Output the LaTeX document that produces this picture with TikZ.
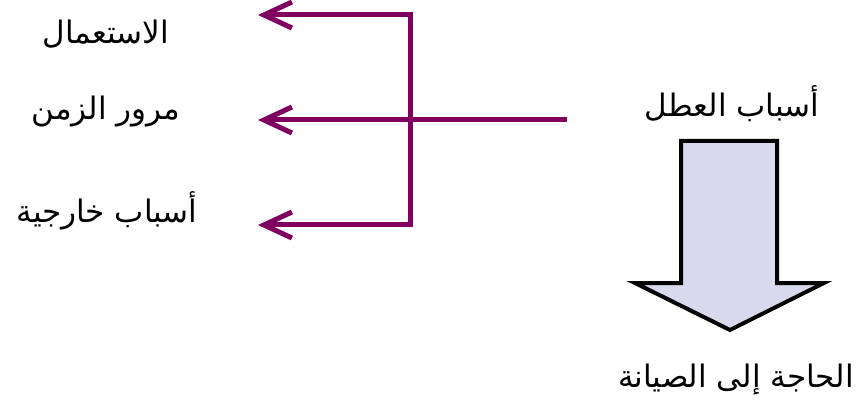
\documentclass[tikz,border=0pt]{standalone}
\usepackage{fontspec}
\newfontfamily\arabicfont[Script=Arabic]{DejaVu Sans}
\TeXXeTstate=1
\usetikzlibrary{arrows.meta}
\definecolor{plum}{HTML}{800060}
\definecolor{lav}{HTML}{D8D9EC}
\begin{document}
\begin{tikzpicture}[x=1pt,y=-1pt,
  lbl/.style={font=\arabicfont\fontsize{31}{36}\selectfont, inner sep=0pt},
  conn/.style={draw=plum, line width=5pt, -{Straight Barb[length=28pt,width=26pt,line width=5pt]}},
  bline/.style={draw=plum, line width=5pt}]
\path[use as bounding box] (0,0) rectangle (861,403);
\node[lbl] (use) at (106,34) {\beginR الاستعمال\endR};
\node[lbl] (time) at (106,112) {\beginR مرور الزمن\endR};
\node[lbl] (ext) at (107,211) {\beginR أسباب خارجية\endR};
\node[lbl] (cause) at (732,104) {\beginR أسباب العطل\endR};
\node[lbl] (need) at (736,380) {\beginR الحاجة إلى الصيانة\endR};
\coordinate (top) at (410,15);
\coordinate (bot) at (410,225);
\coordinate (src) at (567,120);
\coordinate (t1) at (258,15);
\coordinate (t2) at (258,120);
\coordinate (t3) at (258,225);
\draw[bline, line cap=rect] (top) -- (bot);
\draw[conn] (top) -- (t1);
\draw[conn] (src) -- (t2);
\draw[conn] (bot) -- (t3);
\draw[fill=lav, line width=4pt, line join=miter]
  (681,141) -- (777,141) -- (777,283) -- (824,283) -- (730,330) -- (635,283) -- (681,283) -- cycle;
\end{tikzpicture}
\end{document}
